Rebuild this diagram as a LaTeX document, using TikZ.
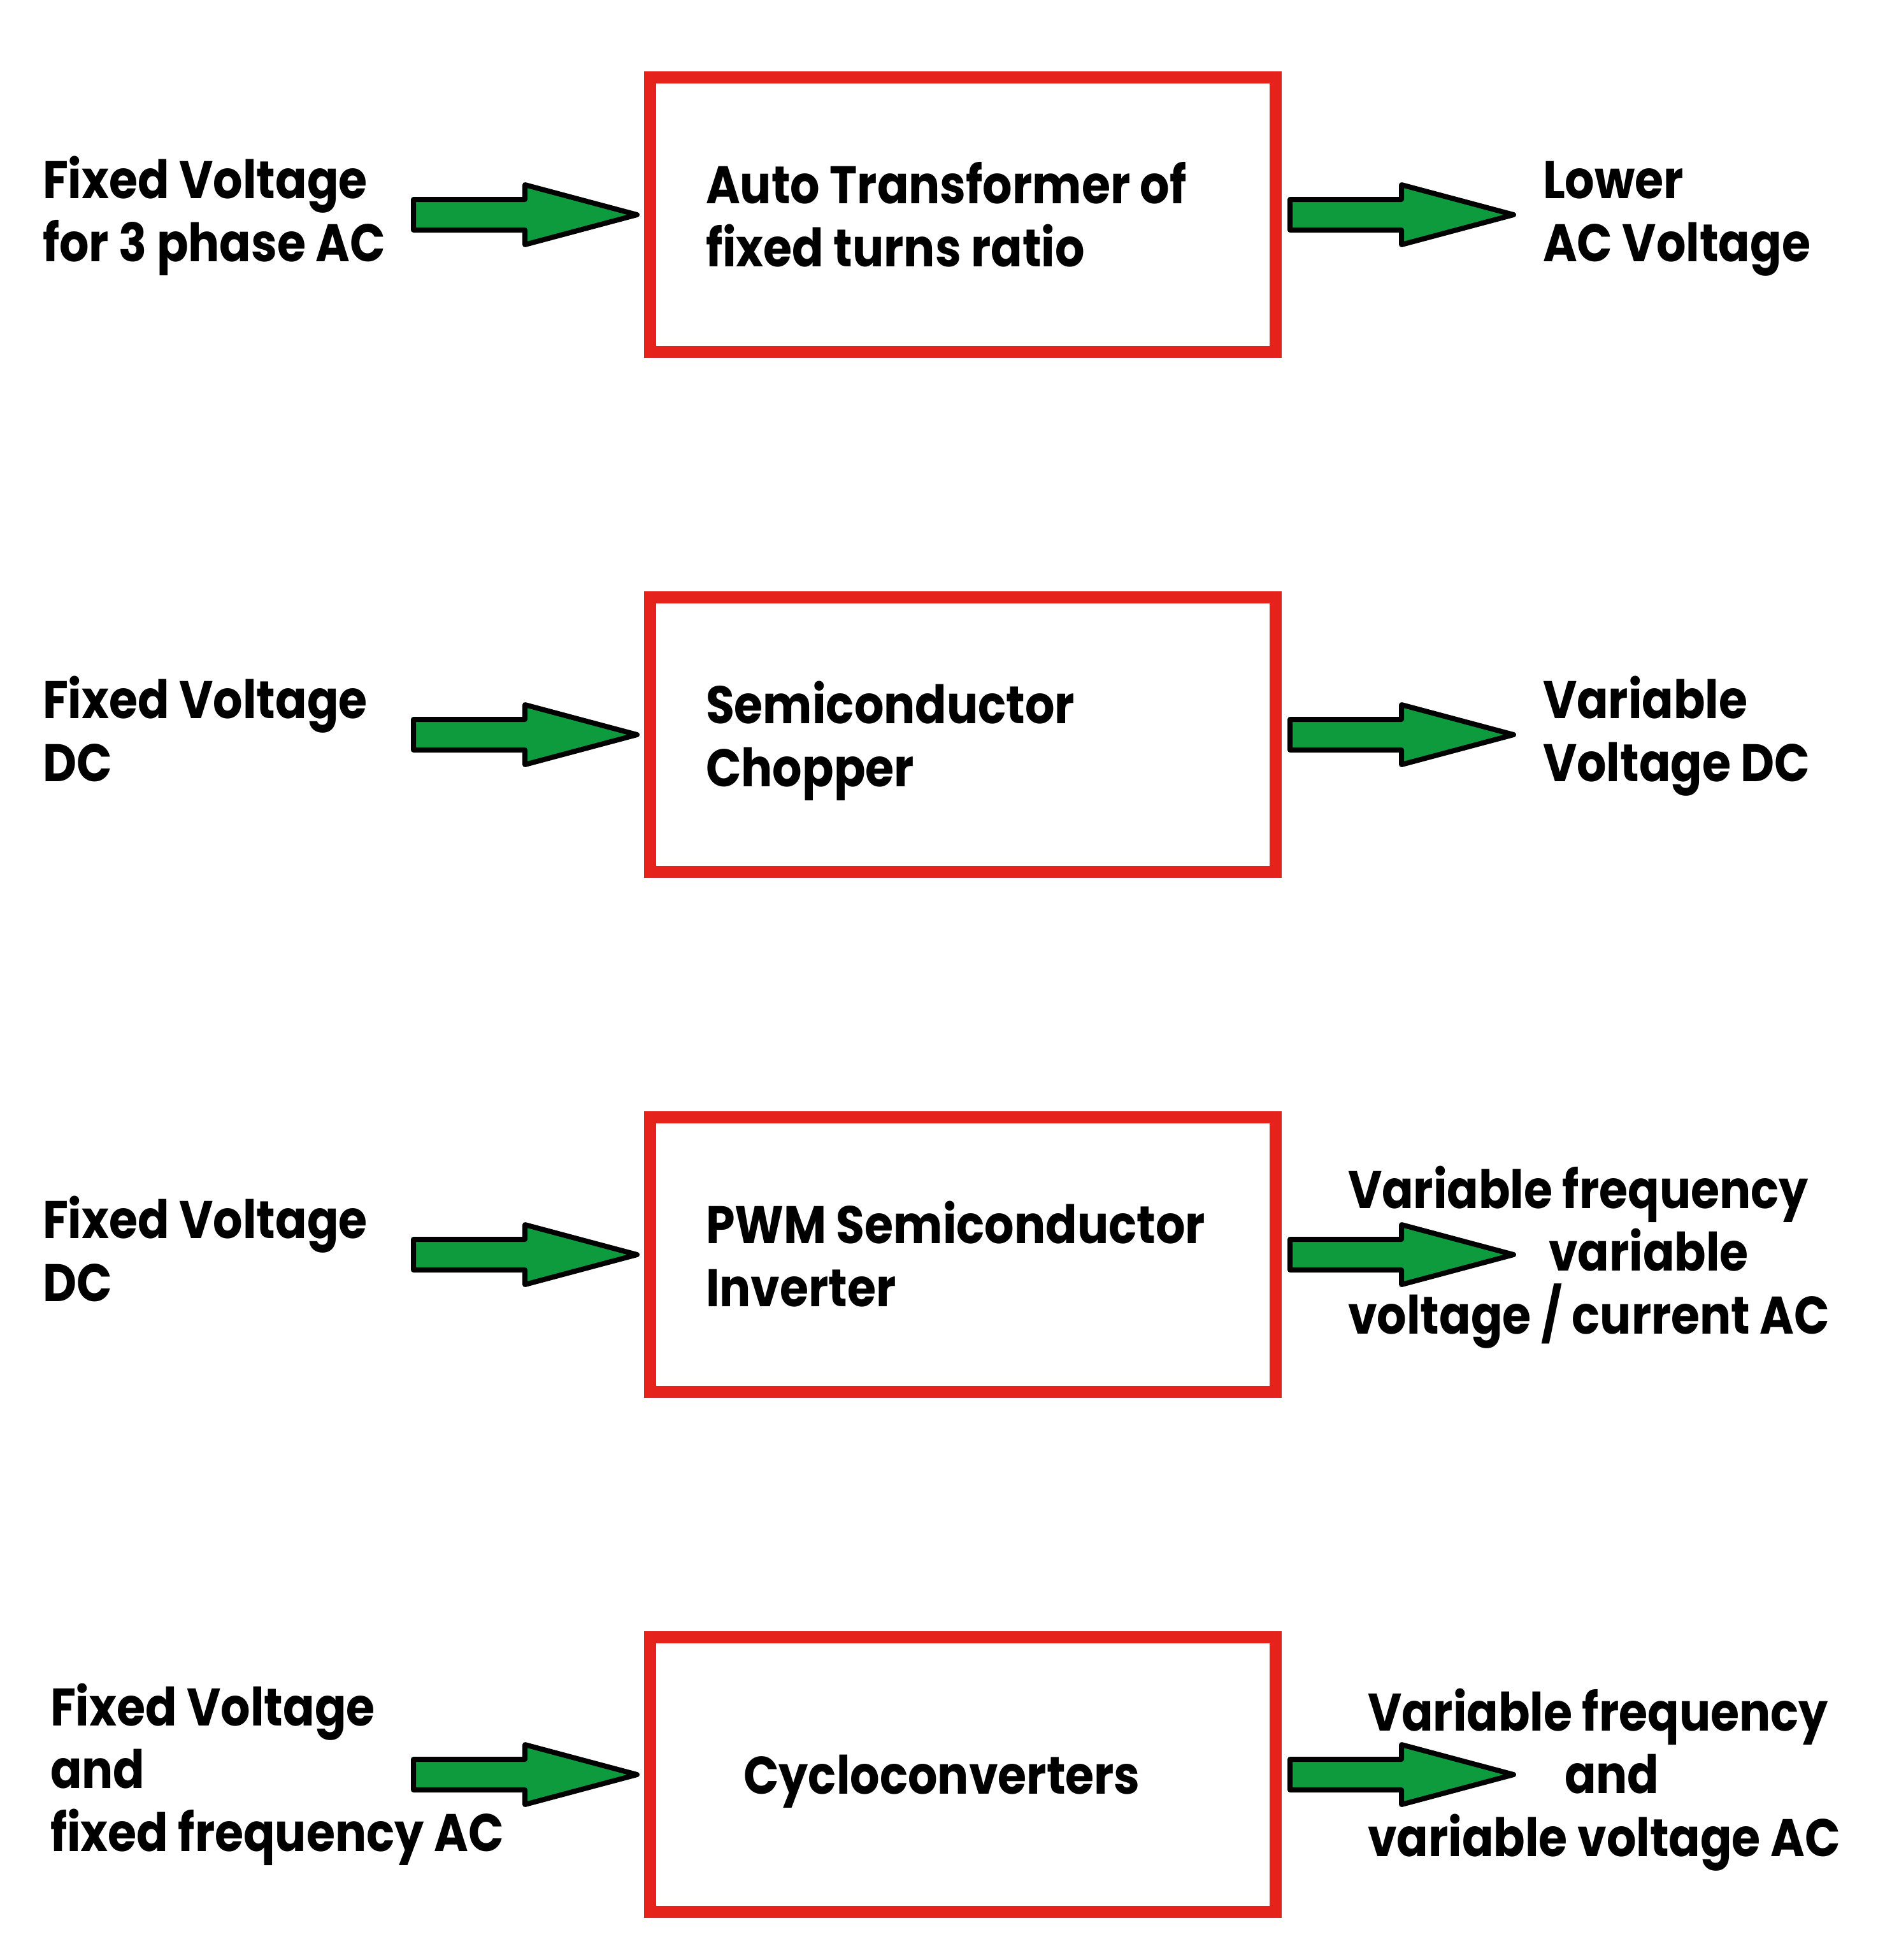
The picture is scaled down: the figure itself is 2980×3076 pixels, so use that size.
\documentclass[tikz,border=0pt]{standalone}
\usepackage{fontspec}
\setmainfont{Poppins}[FakeStretch=0.88]
\usetikzlibrary{calc}
\definecolor{boxred}{RGB}{229,34,28}
\definecolor{argreen}{RGB}{14,155,62}
\newcommand\tightlines{\lineskiplimit=-200pt\relax\lineskip=0pt\relax}
\newcommand\garrow[1]{%
  \draw[garr] (#1) -- ++(-176,-47) -- ++(0,23) -- ++(-175,0) -- ++(0,48) -- ++(175,0) -- ++(0,23) -- cycle;}
\begin{document}
\begin{tikzpicture}[x=1pt,y=-1pt,
  lbl/.style={anchor=base west, align=left, inner sep=0pt, outer sep=0pt,
              font=\fontsize{83}{98.5}\selectfont\bfseries\tightlines},
  blk/.style={draw=boxred, line width=19pt, minimum width=982pt, minimum height=431pt,
              outer sep=0pt, inner sep=0pt},
  garr/.style={draw=black, fill=argreen, line width=8pt, line join=round}]
\useasboundingbox (0,0) rectangle (2980,3076);
\fill[white] (0,0) rectangle (2980,3076);

% boxes
\node[blk] (b1) at (1511,337) {};
\node[blk] (b2) at (1511,1153) {};
\node[blk] (b3) at (1511,1969) {};
\node[blk] (b4) at (1511,2785) {};

% box texts (anchored at the baseline of their last line)
\node[lbl] (t1) at (1108,418) {Auto Transformer of\\fixed turns ratio};
\node[lbl] (t2) at (1108,1234) {Semiconductor\\Chopper};
\node[lbl] (t3) at (1108,2050) {PWM Semiconductor\\Inverter};
\node[lbl] (t4) at (1167,2815) {Cycloconverters};

% inputs
\node[lbl] (i1) at (67,410) {Fixed Voltage\\for 3 phase AC};
\node[lbl] (i2) at (67,1226) {Fixed Voltage\\DC};
\node[lbl] (i3) at (67,2042) {Fixed Voltage\\DC};
\node[lbl] (i4) at (79,2905) {Fixed Voltage\\and\\fixed frequency AC};

% outputs
\node[lbl] (o1) at (2422,410) {Lower\\AC Voltage};
\node[lbl] (o2) at (2422,1226) {Variable\\Voltage DC};
\node[lbl] (o3) at (2116,2093) {Variable frequency\\\hspace*{315pt}variable\\voltage / current AC};
\node[lbl] (o4) at (2147,2913) {Variable frequency\\\hspace*{309pt}and\\variable voltage AC};

% arrows
\foreach \b in {b1,b2,b3,b4}{
  \coordinate (\b in) at ($(\b.west)+(-20,0)$);
  \coordinate (\b out) at ($(\b.east)+(374,0)$);
  \garrow{\b in}
  \garrow{\b out}
}
\end{tikzpicture}
\end{document}
